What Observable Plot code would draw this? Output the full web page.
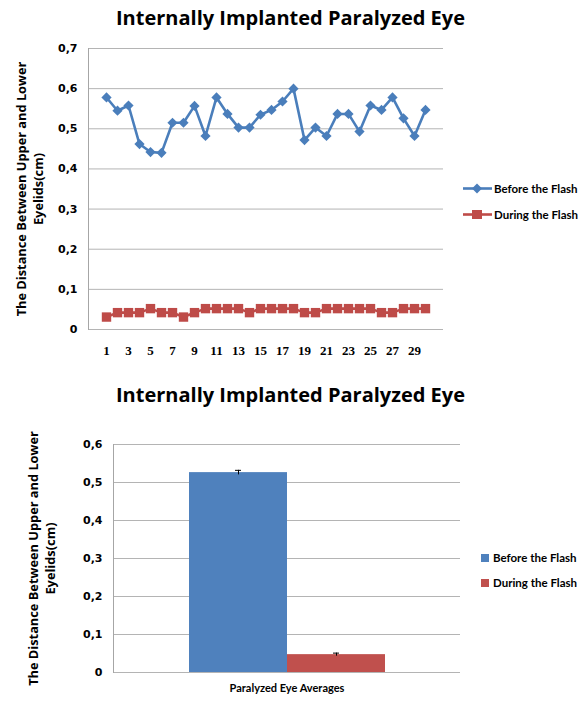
<!DOCTYPE html>
<html>
<head>
<meta charset="utf-8">
<script src="https://cdn.jsdelivr.net/npm/d3@7"></script>
<script src="https://cdn.jsdelivr.net/npm/@observablehq/plot@0.6"></script>
<style>
  body { margin: 0; background: #fff; }
  #wrap { position: relative; width: 581px; height: 702px; overflow: hidden; font-family: "Open Sans", sans-serif; }
  .title { position: absolute; left: 0; width: 581px; text-align: center; font-weight: bold; font-size: 20px; color: #000; }
  .legend { position: absolute; font-family: Lato, sans-serif; font-weight: bold; font-size: 11.5px; color: #000; }
  .legend div { display: flex; align-items: center; height: 26px; white-space: nowrap; }
  .legend svg { margin-right: 2px; }
  #c1, #c2 { position: absolute; left: 0; }
</style>
</head>
<body>
<div id="wrap">
  <div class="title" style="top:4px;line-height:28px;">Internally Implanted Paralyzed Eye</div>
  <div id="c1" style="top:36px;"></div>
  <div id="leg1" class="legend" style="left:463px;top:175px;"></div>
  <div class="title" style="top:381px;line-height:28px;">Internally Implanted Paralyzed Eye</div>
  <div id="c2" style="top:430px;"></div>
  <div id="leg2" class="legend" style="left:481px;top:545px;"></div>
</div>
<script>
// ---------- data ----------
const series = ["Before the Flash", "During the Flash"];
const lineColors = ["#4a7ebb", "#be4b48"];
const barColors = ["#4f81bd", "#c0504d"];
const measurements = [1,2,3,4,5,6,7,8,9,10,11,12,13,14,15,16,17,18,19,20,21,22,23,24,25,26,27,28,29,30];
const beforeFlash = [0.578,0.545,0.558,0.462,0.442,0.440,0.515,0.515,0.557,0.482,0.578,0.537,0.503,0.503,0.535,0.547,0.568,0.600,0.472,0.503,0.482,0.537,0.537,0.493,0.558,0.547,0.578,0.526,0.482,0.547];
const duringFlash = [0.031,0.042,0.042,0.042,0.052,0.042,0.042,0.031,0.042,0.052,0.052,0.052,0.052,0.042,0.052,0.052,0.052,0.052,0.042,0.042,0.052,0.052,0.052,0.052,0.052,0.042,0.042,0.052,0.052,0.052];
const xTicks1 = [1,3,5,7,9,11,13,15,17,19,21,23,25,27,29];
const yTicks1 = [0,0.1,0.2,0.3,0.4,0.5,0.6,0.7];
const yTickLabels1 = ["0","0,1","0,2","0,3","0,4","0,5","0,6","0,7"];
const categories = ["Paralyzed Eye Averages"];
const averages = [0.526, 0.047];
const errors = [0.006, 0.004];
const yTicks2 = [0,0.1,0.2,0.3,0.4,0.5,0.6];
const yTickLabels2 = ["0","0,1","0,2","0,3","0,4","0,5","0,6"];
const yLabel = "The Distance Between Upper and Lower\nEyelids(cm)";

// ---------- chart 1 ----------
const lineData = measurements.flatMap((m, i) => [
  {m, v: beforeFlash[i], s: series[0]},
  {m, v: duringFlash[i], s: series[1]}
]);
const tickFont = {fontFamily: "DejaVu Sans", fontWeight: "bold", fontSize: 11};
const labelStyle = {frameAnchor: "left", textAnchor: "middle", lineAnchor: "middle", rotate: -90, lineHeight: 1.32, fontFamily: "Open Sans", fontWeight: "bold", fontSize: 12.8, fill: "#000"};

const p1 = Plot.plot({
  width: 581, height: 324,
  marginTop: 12, marginBottom: 31, marginLeft: 88, marginRight: 138,
  style: {background: "transparent", color: "#000"},
  x: {type: "point", domain: measurements, padding: 0.5, label: null},
  y: {domain: [0, 0.7], label: null},
  color: {domain: series, range: lineColors},
  marks: [
    Plot.gridY(yTicks1, {stroke: "#b4b4b4", strokeOpacity: 1}),
    Plot.frame({anchor: "left", stroke: "#a6a6a6"}),
    Plot.axisY({ticks: yTicks1, tickFormat: (d, i) => yTickLabels1[i], tickSize: 0, tickPadding: 11, ...tickFont, label: null}),
    Plot.axisX({ticks: xTicks1, tickSize: 0, tickPadding: 16, fontFamily: "Liberation Serif", fontWeight: "bold", fontSize: 13, label: null}),
    Plot.lineY(lineData, {x: "m", y: "v", z: "s", stroke: "s", strokeWidth: 2.6}),
    Plot.dot(lineData.filter(d => d.s === series[0]), {x: "m", y: "v", fill: "s", symbol: "diamond2", r: 4.6, stroke: null}),
    Plot.dot(lineData.filter(d => d.s === series[1]), {x: "m", y: "v", fill: "s", symbol: "square", r: 5.3, stroke: null}),
    Plot.text([yLabel], {...labelStyle, dx: -59})
  ]
});
document.getElementById("c1").appendChild(p1);

// ---------- chart 2 ----------
const barData = series.map((s, i) => ({cat: categories[0], s, v: averages[i], e: errors[i]}));

const p2 = Plot.plot({
  width: 581, height: 272,
  marginTop: 14, marginBottom: 30, marginLeft: 113, marginRight: 121,
  style: {background: "transparent", color: "#000"},
  facet: {data: barData, x: "cat"},
  fx: {domain: categories, padding: 0, label: null, tickSize: 0, tickPadding: 12, axis: "bottom"},
  x: {domain: series, axis: null, paddingInner: 0, paddingOuter: 0.76},
  y: {domain: [0, 0.6], label: null},
  color: {domain: series, range: barColors},
  marks: [
    Plot.gridY(yTicks2, {stroke: "#b4b4b4", strokeOpacity: 1}),
    Plot.frame({anchor: "left", stroke: "#a6a6a6"}),
    Plot.axisY({ticks: yTicks2, tickFormat: (d, i) => yTickLabels2[i], tickSize: 0, tickPadding: 11, ...tickFont, label: null}),
    Plot.barY(barData, {x: "s", y: "v", fill: "s"}),
    Plot.ruleX(barData, {x: "s", y1: d => d.v - d.e, y2: d => d.v + d.e, stroke: "#000", strokeWidth: 1}),
    Plot.tickY(barData, {x: "s", y: d => d.v + d.e, stroke: "#000", strokeWidth: 1, insetLeft: 46, insetRight: 46}),
    Plot.text([yLabel], {...labelStyle, dx: -72})
  ]
});
document.getElementById("c2").appendChild(p2);
// style fx tick label
p2.querySelectorAll("[aria-label='fx-axis tick label'] text, [aria-label='fx-axis'] text").forEach(t => {
  t.setAttribute("font-family", "Lato"); t.setAttribute("font-size", "11"); t.setAttribute("font-weight", "bold");
});

// ---------- legends ----------
const leg1 = document.getElementById("leg1");
series.forEach((s, i) => {
  const row = document.createElement("div");
  const marker = i === 0
    ? `<polygon points="14,0.5 19,5.5 14,10.5 9,5.5" fill="${lineColors[i]}"/>`
    : `<rect x="9" y="1" width="10" height="9" fill="${lineColors[i]}"/>`;
  row.innerHTML = `<svg width="29" height="11"><line x1="0" x2="29" y1="5.5" y2="5.5" stroke="${lineColors[i]}" stroke-width="2.6"/>${marker}</svg><span>${s}</span>`;
  leg1.appendChild(row);
});
const leg2 = document.getElementById("leg2");
series.forEach((s, i) => {
  const row = document.createElement("div");
  row.style.height = "25px";
  row.innerHTML = `<svg width="10" height="8"><rect x="0" y="0" width="8" height="8" fill="${barColors[i]}"/></svg><span>${s}</span>`;
  leg2.appendChild(row);
});
</script>
</body>
</html>
